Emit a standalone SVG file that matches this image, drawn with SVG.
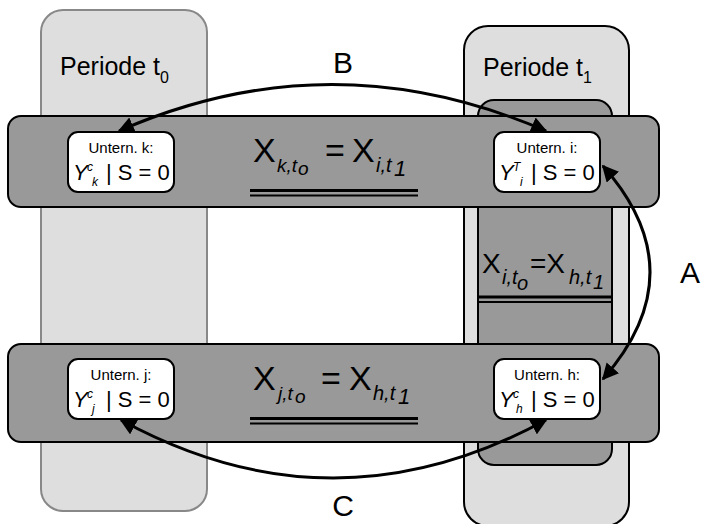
<svg xmlns="http://www.w3.org/2000/svg" width="703" height="524" viewBox="0 0 703 524">
<defs>
<style>
text{font-family:"Liberation Sans",Arial,sans-serif;fill:#000}
.period{fill:#dedede}
.bar{fill:#999;stroke:#000;stroke-width:2}
.node{fill:#fff;stroke:#000;stroke-width:2}
.small{font-size:15px}
.big{font-size:22px}
.it{font-style:italic}
.sup{font-size:12px;font-style:italic}
.eq{font-size:34px}
.edge{fill:none;stroke:#000;stroke-width:3}
.lbl{font-size:30px}
</style>
<marker id="ah" viewBox="0 0 10 10" refX="9" refY="5" markerWidth="5.5" markerHeight="5.5" orient="auto-start-reverse" markerUnits="strokeWidth">
<path d="M0,0 L10,5 L0,10 z" fill="#000"/>
</marker>
</defs>

<g id="period-t0">
<rect class="period" x="41" y="10" width="166" height="501" rx="22" stroke="#888" stroke-width="2"/>
<text x="60" y="75" font-size="25">Periode t<tspan font-size="16" dy="8">0</tspan></text>
</g>

<g id="period-t1">
<rect class="period" x="464" y="26" width="165" height="500" rx="24" stroke="#000" stroke-width="2"/>
<text x="483" y="76" font-size="25">Periode t<tspan font-size="16" dy="7">1</tspan></text>
</g>

<g id="inner-t1">
<rect class="bar" x="478" y="100" width="134" height="365" rx="16"/>
<line x1="478" y1="297" x2="612" y2="297" stroke="#000" stroke-width="3"/>
<line x1="478" y1="302" x2="612" y2="302" stroke="#000" stroke-width="2"/>
<text font-size="28" x="482" y="273">X</text>
<text class="it" font-size="20" x="502" y="284">i,t</text>
<text class="it" font-size="20" x="517" y="290">o</text>
<text font-size="28" x="530" y="273">=X</text>
<text class="it" font-size="20" x="569" y="284">h,t</text>
<text class="it" font-size="20" x="593" y="289">1</text>
</g>

<g id="bar-top">
<rect class="bar" x="8" y="116" width="651" height="91" rx="13"/>
<text class="eq" x="253" y="162">X</text>
<text class="it" font-size="19" x="277" y="172">k,t</text>
<text class="it" font-size="19" x="298" y="175">o</text>
<text class="eq" x="325" y="162">=</text>
<text class="eq" x="352" y="162">X</text>
<text class="it" font-size="20" x="376" y="172">i,t</text>
<text class="it" font-size="22" x="394" y="176">1</text>
<line x1="250" y1="190.5" x2="418" y2="190.5" stroke="#000" stroke-width="3"/>
<line x1="250" y1="195.5" x2="418" y2="195.5" stroke="#000" stroke-width="2"/>
</g>

<g id="bar-bottom">
<rect class="bar" x="8" y="344" width="651" height="98" rx="13"/>
<text class="eq" x="253" y="390">X</text>
<text class="it" font-size="19" x="278" y="400">j,t</text>
<text class="it" font-size="19" x="295" y="403">o</text>
<text class="eq" x="321" y="390">=</text>
<text class="eq" x="349" y="390">X</text>
<text class="it" font-size="20" x="373" y="400">h,t</text>
<text class="it" font-size="22" x="398" y="404">1</text>
<line x1="250" y1="418.5" x2="418" y2="418.5" stroke="#000" stroke-width="3"/>
<line x1="250" y1="423.5" x2="418" y2="423.5" stroke="#000" stroke-width="2"/>
</g>

<g id="node-k">
<rect class="node" x="68" y="132" width="106" height="60" rx="10"/>
<text class="small" x="121" y="153" text-anchor="middle">Untern. k:</text>
<text class="big it" x="73" y="180">Y</text>
<text class="sup" x="87" y="171">c</text>
<text class="sup" x="92" y="186">k</text>
<text class="big" x="106" y="180">| S = 0</text>
</g>

<g id="node-i">
<rect class="node" x="494" y="132" width="106" height="60" rx="10"/>
<text class="small" x="547" y="153" text-anchor="middle">Untern. i:</text>
<text class="big it" x="499" y="180">Y</text>
<text class="sup" x="513" y="171">T</text>
<text class="sup" x="520" y="186">i</text>
<text class="big" x="531" y="180">| S = 0</text>
</g>

<g id="node-j">
<rect class="node" x="68" y="359" width="106" height="60" rx="10"/>
<text class="small" x="121" y="380" text-anchor="middle">Untern. j:</text>
<text class="big it" x="73" y="407">Y</text>
<text class="sup" x="87" y="398">c</text>
<text class="sup" x="92" y="413">j</text>
<text class="big" x="106" y="407">| S = 0</text>
</g>

<g id="node-h">
<rect class="node" x="494" y="359" width="106" height="60" rx="10"/>
<text class="small" x="547" y="380" text-anchor="middle">Untern. h:</text>
<text class="big it" x="499" y="407">Y</text>
<text class="sup" x="513" y="398">c</text>
<text class="sup" x="516" y="413">h</text>
<text class="big" x="531" y="407">| S = 0</text>
</g>

<g id="connectors">
<path class="edge" d="M119,131 Q331,38 546,131" marker-start="url(#ah)" marker-end="url(#ah)"/>
<path class="edge" d="M603,166 Q697,272 603,379" marker-start="url(#ah)" marker-end="url(#ah)"/>
<path class="edge" d="M121,420 Q333,536 546,420" marker-start="url(#ah)" marker-end="url(#ah)"/>
<text class="lbl" x="343" y="73" text-anchor="middle">B</text>
<text class="lbl" x="690" y="283" text-anchor="middle">A</text>
<text class="lbl" x="343" y="516" text-anchor="middle">C</text>
</g>
</svg>
